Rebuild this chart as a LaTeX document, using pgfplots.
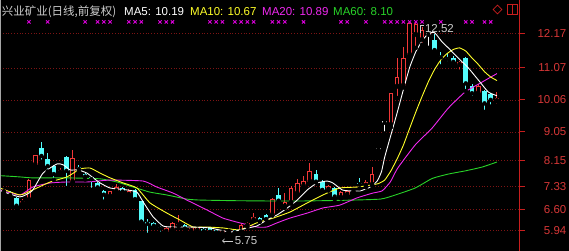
\documentclass[border=0pt]{standalone}
\usepackage{fontspec}
\setmainfont{Liberation Sans}
\newfontfamily\cjk{Noto Sans CJK SC}
\usepackage{pgfplots}
\usepackage{pgfplotstable}
\pgfplotsset{compat=1.18}

\definecolor{tdxred}{RGB}{200,30,30}
\definecolor{tdxlab}{RGB}{215,55,55}
\definecolor{tdxgrid}{RGB}{125,20,20}
\definecolor{upred}{RGB}{240,55,55}
\definecolor{dncyan}{RGB}{84,252,252}
\definecolor{ma10c}{RGB}{255,255,40}
\definecolor{ma20c}{RGB}{240,40,240}
\definecolor{ma60c}{RGB}{40,210,40}
\definecolor{sigc}{RGB}{220,0,220}
\definecolor{txtgray}{RGB}{205,205,205}

% i open high low close
\pgfplotstableread{
i O H L C
0 7.15 7.26 7.12 7.24
3 6.80 6.92 6.79 6.88
4 6.90 7.55 6.85 7.53
5 8.01 8.33 7.95 8.32
9 7.76 7.90 7.74 7.85
11 7.47 8.48 7.45 8.23
17 7.01 7.19 6.99 7.17
18 7.17 7.41 7.15 7.31
20 7.06 7.25 7.04 7.20
26 5.90 6.05 5.88 6.03
27 5.96 6.20 5.94 6.19
28 6.10 6.43 6.08 6.14
30 5.92 6.05 5.90 6.03
31 5.93 6.05 5.91 6.03
35 5.85 5.95 5.75 5.92
36 5.90 5.95 5.88 5.93
38 5.88 6.13 5.86 6.11
39 6.09 6.22 6.05 6.18
40 6.26 6.50 6.24 6.36
43 6.43 6.95 6.41 6.93
45 6.69 7.12 6.65 6.85
46 6.81 7.35 6.78 7.28
47 7.11 7.56 7.05 7.45
48 7.34 7.65 7.30 7.51
49 7.48 8.08 7.45 7.83
52 7.22 7.38 7.20 7.35
54 6.97 7.20 6.95 7.15
55 7.06 7.22 7.04 7.19
56 7.15 7.20 7.13 7.18
58 7.35 7.52 7.30 7.48
59 7.38 7.95 7.35 7.72
62 9.27 10.27 9.20 10.27
63 10.48 11.38 10.12 10.79
64 10.51 11.74 10.45 11.39
65 11.48 12.50 11.40 12.50
66 12.11 12.52 11.70 12.45
67 11.95 12.35 11.80 12.26
73 11.16 11.28 10.95 11.26
76 10.27 10.55 10.25 10.51
79 10.02 10.30 9.88 10.13
}\uptab

\pgfplotstableread{
i O H L C
1 7.15 7.18 7.03 7.06
2 6.97 6.99 6.64 6.72
6 8.54 8.74 8.11 8.29
7 8.19 8.38 7.80 7.97
8 7.97 8.00 7.53 7.72
10 8.26 8.28 7.28 7.82
12 7.93 8.00 7.80 7.88
13 7.72 7.75 7.55 7.64
14 7.63 7.66 7.22 7.56
15 7.45 7.48 7.25 7.30
16 7.20 7.22 6.85 7.07
19 7.28 7.30 7.05 7.17
21 7.22 7.25 6.90 6.93
22 6.87 6.88 6.20 6.22
23 6.22 6.30 5.80 6.15
24 6.18 6.20 6.06 6.09
25 6.05 6.08 5.84 6.00
29 6.11 6.13 5.97 6.00
32 6.00 6.02 5.90 5.92
33 6.05 6.06 5.88 5.90
34 5.96 5.98 5.86 5.88
37 5.94 5.96 5.86 5.88
41 6.33 6.35 6.21 6.23
42 6.43 6.45 6.28 6.30
44 7.06 7.28 6.85 6.88
50 7.72 7.85 7.45 7.48
51 7.48 7.52 7.20 7.22
53 7.29 7.31 6.92 7.01
57 7.43 7.61 7.27 7.40
69 11.95 12.15 11.60 11.63
70 11.45 11.56 11.12 11.40
71 11.39 11.54 11.22 11.35
72 11.38 11.46 11.15 11.26
74 11.39 11.42 10.34 10.58
75 10.51 10.55 10.13 10.27
77 10.34 10.38 9.68 9.95
78 10.24 10.27 9.85 10.06
}\dntab

\pgfplotstableread{
i O H L C
60 8.49 8.49 8.49 8.49
61 9.34 9.34 9.00 9.34
68 12.12 12.12 11.70 12.12
}\flattab

\begin{document}
\begin{tikzpicture}
\useasboundingbox (0,0) rectangle (569pt,251pt);
\fill[black] (0,0) rectangle (569pt,251pt);
\begin{axis}[
  at={(0pt,0pt)}, anchor=south west,
  scale only axis, width=519pt, height=251pt,
  xmin=-0.641, xmax=82.53, ymin=5.293, ymax=13.211,
  axis x line=none, axis y line*=right,
  y axis line style={draw=tdxred, line width=1pt, -},
  ytick={5.94,6.60,7.33,8.15,9.05,10.06,11.07,12.17},
  yticklabels={5.94,6.60,7.33,8.15,9.05,10.06,11.07,12.17},
  tick align=outside, major tick length=6pt,
  ytick style={draw=tdxred, line width=0.8pt},
  yticklabel style={font=\fontsize{11.5}{12}\selectfont, text=tdxlab, anchor=east, inner sep=0pt, xshift=41.5pt},
  ymajorgrids,
  major grid style={draw=tdxgrid, line width=0.7pt, dash pattern=on 0.8pt off 2pt},
  clip=true,
]
% ---- red (up) candles: wick, body, hollow interior
\addplot[only marks, mark=none, error bars/.cd, y dir=plus, y explicit, error mark=none,
  error bar style={draw=upred, line width=1pt}]
  table[x=i, y=L, y error plus expr=\thisrow{H}-\thisrow{L}] {\uptab};
\addplot[only marks, mark=none, error bars/.cd, y dir=plus, y explicit, error mark=none,
  error bar style={draw=upred, line width=4.6pt}]
  table[x=i, y=O, y error plus expr={max(\thisrow{C}-\thisrow{O},0.035)}] {\uptab};
\addplot[only marks, mark=none, error bars/.cd, y dir=plus, y explicit, error mark=none,
  error bar style={draw=black, line width=2.6pt}]
  table[x=i, y expr=\thisrow{O}+0.0315, y error plus expr={max(\thisrow{C}-\thisrow{O}-0.063,0)}] {\uptab};
% ---- cyan (down) candles
\addplot[only marks, mark=none, error bars/.cd, y dir=plus, y explicit, error mark=none,
  error bar style={draw=dncyan, line width=1pt}]
  table[x=i, y=L, y error plus expr=\thisrow{H}-\thisrow{L}] {\dntab};
\addplot[only marks, mark=none, error bars/.cd, y dir=plus, y explicit, error mark=none,
  error bar style={draw=dncyan, line width=4.6pt}]
  table[x=i, y=C, y error plus expr={max(\thisrow{O}-\thisrow{C},0.035)}] {\dntab};
% ---- white (open = close) candles
\addplot[only marks, mark=none, error bars/.cd, y dir=plus, y explicit, error mark=none,
  error bar style={draw=white, line width=1pt}]
  table[x=i, y=L, y error plus expr=\thisrow{H}-\thisrow{L}] {\flattab};
\addplot[only marks, mark=none, error bars/.cd, y dir=plus, y explicit, error mark=none,
  error bar style={draw=white, line width=4.6pt}]
  table[x=i, y=O, y error plus expr={0.04}] {\flattab};

% ---- moving averages
\addplot[ma60c, line width=0.9pt, smooth, tension=0.3] coordinates {
(-0.64,7.67) (2.56,7.63) (4.6,7.60) (10.1,7.60) (15.4,7.57) (18.1,7.47) (20.7,7.31)
(23.4,7.15) (26.1,7.06) (29.3,6.93) (31.4,6.90) (37,6.88) (43.1,6.87) (47.4,6.87)
(54,6.89) (60.3,6.93) (62.7,7.06) (65.9,7.28) (68.6,7.58) (71.2,7.72) (73.9,7.82)
(76.6,7.94) (79.0,8.10)};
\addplot[ma20c, line width=0.9pt, smooth, tension=0.3] coordinates {
(-0.64,7.22) (2.56,7.06) (4.6,7.31) (7.4,7.44) (10.1,7.47) (13.3,7.47) (17.0,7.53)
(22.3,7.50) (24.5,7.31) (27.1,7.12) (29.3,6.90) (32.5,6.59) (35.1,6.33) (37.8,6.18)
(40.5,6.05) (42.1,6.05) (43.75,6.18) (45.8,6.33) (48.6,6.49) (51.1,6.65) (53.8,6.74)
(56.6,6.97) (59.1,7.12) (60.6,7.19) (61.9,7.47) (63.1,7.91) (65.9,8.64) (68.6,9.17)
(71.2,9.80) (73.9,10.31) (76.6,10.62) (79.0,10.89)};
\addplot[ma10c, line width=0.9pt, smooth, tension=0.3] coordinates {
(-0.64,7.28) (2.56,7.06) (4.6,7.22) (7.4,7.47) (10.1,7.63) (12.2,7.88) (13.8,7.91)
(15.4,7.75) (17.0,7.60) (19.1,7.44) (21.3,7.28) (23.4,6.81) (26.1,6.49) (28.2,6.27)
(30.3,6.05) (32.5,6.05) (35.1,6.02) (37.8,5.96) (40.5,6.18) (43.1,6.33) (45.8,6.52)
(48.6,6.81) (51.1,7.06) (53.8,7.28) (56.6,7.31) (59,7.38) (60,7.42) (61,7.53)
(62,7.82) (63,8.20) (64,8.63) (65,9.16) (66,9.68) (67,10.17) (68,10.63) (69,11.02)
(70,11.32) (71,11.52) (72,11.65) (73,11.70) (74,11.60) (75,11.38) (76,11.18)
(77,10.95) (78,10.78) (79,10.67)};
\addplot[white, line width=0.9pt, smooth, tension=0.3] coordinates {
(-0.64,7.20) (2.56,7.00) (4.5,7.19) (6.25,7.75) (8.5,8.04) (9.5,8.01) (10.6,7.85)
(11.9,7.85) (13.3,7.75) (14.3,7.60) (15.4,7.44) (17.0,7.28) (19.7,7.22) (21.3,7.15)
(22.3,6.84) (23.9,6.37) (25.5,6.08) (27.1,6.05) (29.8,6.05) (33.0,6.02) (36.2,5.89)
(37.8,5.96) (39.1,6.02) (40.5,6.08) (42.1,6.27) (43.75,6.43) (45.4,6.65) (47.0,6.90)
(48.6,7.22) (50.2,7.44) (51.8,7.50) (52.7,7.44) (54.2,7.22) (55.4,7.19) (57.1,7.19)
(58.7,7.31) (59.8,7.50) (60.5,7.80) (61,8.25) (62,8.95) (63,9.65) (64,10.38)
(65,11.08) (66,11.58) (67,11.92) (68,12.15) (69,12.18) (70.2,11.89) (71.2,11.70)
(72.8,11.38) (74.4,11.07) (76.0,10.69) (77.6,10.31) (79.0,10.19)};

% ---- signal markers along the top
\addplot[only marks, mark=x, mark size=2.3pt, sigc, line width=0.9pt] coordinates {
(4,12.52) (7,12.52) (13,12.52) (15,12.52) (16,12.52) (17,12.52) (20,12.52) (21,12.52)
(22,12.52) (25,12.52) (26,12.52) (27,12.52) (33,12.52) (34,12.52) (35,12.52) (37,12.52)
(38,12.52) (39,12.52) (40,12.52) (43,12.52) (44,12.52) (45,12.52) (48,12.52) (54,12.52)
(55,12.52) (58,12.52) (61,12.52) (62,12.52) (63,12.52) (64,12.52) (65,12.52) (66,12.52)
(67,12.52) (70,12.52) (74,12.52) (75,12.52) (77,12.52) (78,12.52)};

% ---- high / low annotations
\draw[txtgray, line width=0.8pt] (axis cs:66.75,12.16) -- (axis cs:66.75,12.42) -- (axis cs:67.35,12.42);
\node[anchor=base west, inner sep=0pt, text=txtgray, font=\fontsize{11.5}{12}\selectfont] at (axis cs:67.45,12.19) {12.52};
\draw[txtgray, line width=0.8pt, <-] (axis cs:34.95,5.61) -- (axis cs:36.7,5.61);
\node[anchor=west, inner sep=0pt, text=txtgray, font=\fontsize{11.5}{12}\selectfont] at (axis cs:36.95,5.61) {5.75};

% ---- title line
\node[anchor=base west, inner sep=0pt, text=txtgray, font=\cjk\fontsize{11.5}{13}\selectfont] at (rel axis cs:0.003,0.9402) {兴业矿业(日线,前复权)};
\node[anchor=base west, inner sep=0pt, text=white, font=\fontsize{11.5}{13}\selectfont] at (rel axis cs:0.2389,0.9402) {MA5: 10.19};
\node[anchor=base west, inner sep=0pt, text=ma10c, font=\fontsize{11.5}{13}\selectfont] at (rel axis cs:0.3661,0.9402) {MA10: 10.67};
\node[anchor=base west, inner sep=0pt, text=ma20c, font=\fontsize{11.5}{13}\selectfont] at (rel axis cs:0.5048,0.9402) {MA20: 10.89};
\node[anchor=base west, inner sep=0pt, text=ma60c, font=\fontsize{11.5}{13}\selectfont] at (rel axis cs:0.6416,0.9402) {MA60: 8.10};
% window icons
\node[draw=tdxred, line width=0.8pt, rotate=45, minimum size=6.2pt, inner sep=0pt] at (rel axis cs:0.9586,0.9622) {};
\node[draw=tdxred, line width=0.8pt, minimum width=10pt, minimum height=10pt, inner sep=0pt] (bx) at (rel axis cs:0.9875,0.9622) {};
\draw[tdxred, line width=0.8pt] (bx.north) -- (bx.south);
% left border
\draw[gray!70, line width=1.2pt] (rel axis cs:0,0) -- (rel axis cs:0,1);
\end{axis}
\end{tikzpicture}
\end{document}
